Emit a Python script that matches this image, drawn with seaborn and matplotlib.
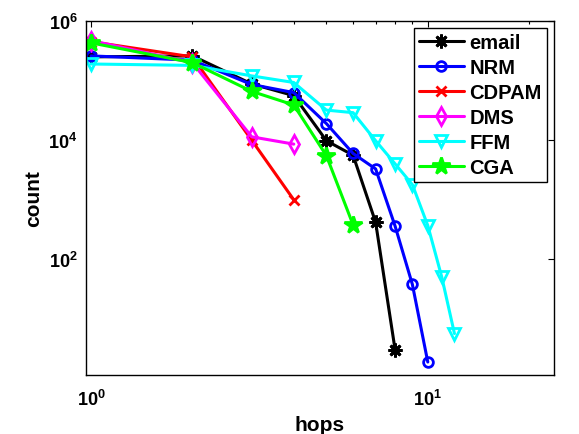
import numpy as np
import pandas as pd
import matplotlib
matplotlib.use("Agg")
import matplotlib.pyplot as plt
import matplotlib.ticker as mticker
import seaborn as sns

# Hop-count distribution of the email network and the generative models
email = [2.5e5, 2.6e5, 8.8e4, 5.6e4, 9.8e3, 5.6e3, 4.2e2, 3.0]
nrm = [2.6e5, 2.2e5, 8.6e4, 6.3e4, 1.9e4, 6.0e3, 3.3e3, 3.6e2, 38, 1.9]
cdpam = [4.5e5, 2.5e5, 1.0e4, 1.0e3]
dms = [4.7e5, 2.0e5, 1.14e4, 8.6e3]
ffm = [1.9e5, 1.8e5, 1.2e5, 9.3e4, 3.2e4, 2.9e4, 9.8e3, 4.0e3, 1.8e3, 3.7e2, 51, 5.7]
cga = [4.3e5, 2.0e5, 6.6e4, 3.9e4, 5.5e3, 3.8e2]

series_names = ["email", "NRM", "CDPAM", "DMS", "FFM", "CGA"]
series_values = [email, nrm, cdpam, dms, ffm, cga]

styles = {
    "email": dict(color="#000000", marker=(8, 2, 0), ms=10, mfc="#000000"),
    "NRM":   dict(color="#0000ff", marker="o", ms=7, mfc="none"),
    "CDPAM": dict(color="#ff0000", marker="x", ms=7, mfc="#ff0000"),
    "DMS":   dict(color="#ff00ff", marker="d", ms=9, mfc="none"),
    "FFM":   dict(color="#00ffff", marker="v", ms=9, mfc="none"),
    "CGA":   dict(color="#00ff00", marker="*", ms=13, mfc="#00ff00"),
}

sns.set_style("white")
plt.rcParams["font.family"] = ["Liberation Sans", "DejaVu Sans"]
plt.rcParams["font.weight"] = "bold"
plt.rcParams["text.color"] = "black"
plt.rcParams["axes.labelcolor"] = "black"
plt.rcParams["xtick.color"] = "black"
plt.rcParams["ytick.color"] = "black"
plt.rcParams["mathtext.fontset"] = "custom"
plt.rcParams["mathtext.rm"] = "Liberation Sans:bold"
plt.rcParams["mathtext.bf"] = "Liberation Sans:bold"
plt.rcParams["mathtext.default"] = "bf"

fig = plt.figure(figsize=(5.79, 4.35), dpi=100)
ax = fig.add_axes([0.1485, 0.1356, 0.8083, 0.8138])

frames = []
for name, vals in zip(series_names, series_values):
    frames.append(pd.DataFrame({"hops": np.arange(1, len(vals) + 1),
                                "count": vals, "model": name}))
df = pd.concat(frames, ignore_index=True)

for name in series_names:
    st = styles[name]
    sub = df[df["model"] == name]
    sns.lineplot(data=sub, x="hops", y="count", ax=ax, label=name,
                 color=st["color"], marker=st["marker"], markersize=st["ms"],
                 markerfacecolor=st["mfc"], markeredgecolor=st["color"],
                 markeredgewidth=2, linewidth=2.2, estimator=None, sort=False)

ax.set_xscale("log")
ax.set_yscale("log")
ax.set_xlim(0.966, 23.7)
ax.set_ylim(1.15, 1e6)

ax.xaxis.set_major_locator(mticker.FixedLocator([1, 10]))
ax.xaxis.set_minor_locator(mticker.FixedLocator([2, 3, 4, 5, 6, 7, 8, 9, 20]))
ax.yaxis.set_major_locator(mticker.FixedLocator([1e2, 1e4, 1e6]))
ax.yaxis.set_minor_locator(mticker.NullLocator())

def pow10(v, pos):
    return r"$\mathbf{10^{%d}}$" % int(round(np.log10(v)))

ax.xaxis.set_major_formatter(mticker.FuncFormatter(pow10))
ax.yaxis.set_major_formatter(mticker.FuncFormatter(pow10))
ax.xaxis.set_minor_formatter(mticker.NullFormatter())

ax.tick_params(which="both", direction="in", top=True, right=True,
               labelsize=13, width=0.8, colors="black")
ax.tick_params(which="major", length=4.5, pad=6)
ax.tick_params(which="minor", length=2.5)
ax.tick_params(axis="x", which="major", pad=10)
for sp in ax.spines.values():
    sp.set_visible(True)
    sp.set_color("black")
    sp.set_linewidth(1.0)

ax.set_xlabel("hops", fontsize=15, fontweight="bold", labelpad=4, color="black")
ax.set_ylabel("count", fontsize=15, fontweight="bold", labelpad=4, color="black")

leg = ax.legend(loc="upper right", bbox_to_anchor=(0.985, 0.98),
                borderaxespad=0, fontsize=14.5, handlelength=2.2,
                handletextpad=0.3, labelspacing=0.3, borderpad=0.25,
                fancybox=False, framealpha=1)
leg.get_frame().set_edgecolor("black")
leg.get_frame().set_linewidth(1.0)
for t in leg.get_texts():
    t.set_fontweight("bold")
    t.set_color("black")

fig.savefig("out.png", dpi=100)
